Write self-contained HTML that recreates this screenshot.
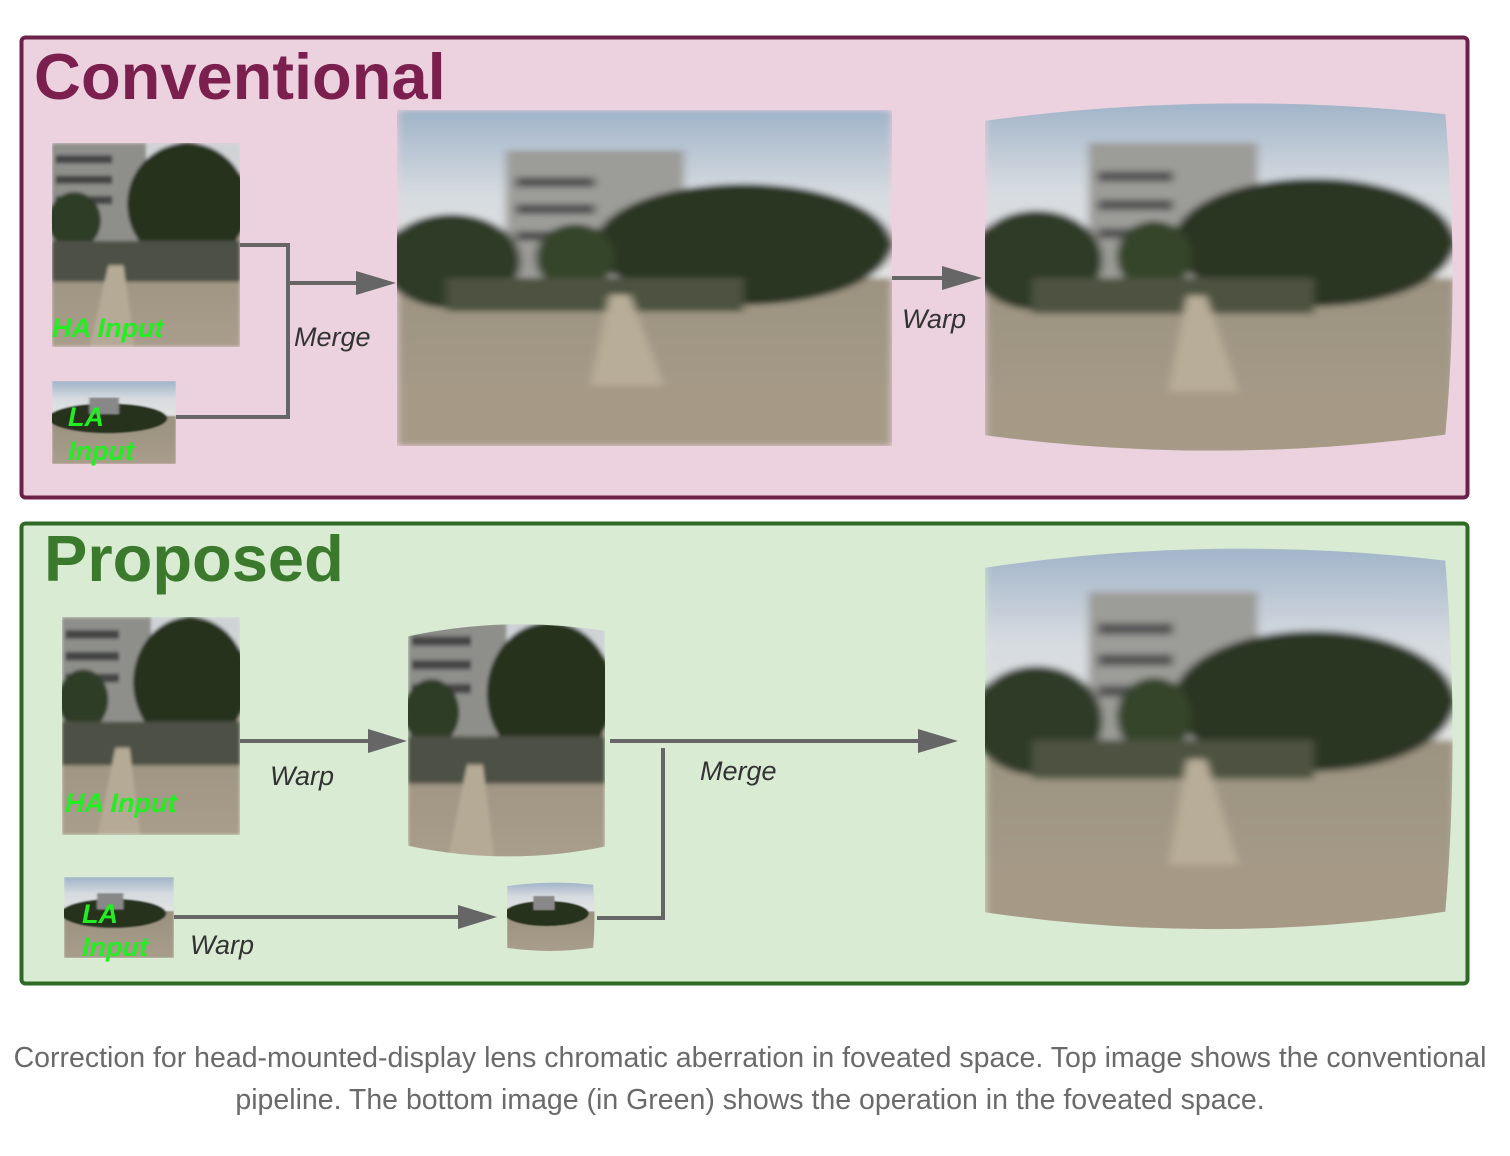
<!DOCTYPE html>
<html><head><meta charset="utf-8">
<style>
html,body{margin:0;padding:0;background:#fff;width:1510px;height:1156px;overflow:hidden}
svg{display:block}
.lbl{font-family:"Liberation Sans",sans-serif;font-style:italic;font-size:27px;fill:#333}
.grn{font-family:"Liberation Sans",sans-serif;font-style:italic;font-weight:bold;font-size:27px;fill:#22ee22}
.cap{font-family:"Liberation Sans",sans-serif;font-size:28.5px;fill:#6a6a6a}
</style></head><body>
<svg width="1510" height="1156" viewBox="0 0 1510 1156" xmlns="http://www.w3.org/2000/svg">
<defs>
  <filter id="bl" x="-5%" y="-5%" width="110%" height="110%"><feGaussianBlur stdDeviation="0.9"/></filter>
  <linearGradient id="sky" x1="0" y1="0" x2="0" y2="1">
    <stop offset="0" stop-color="#9fb3c8"/><stop offset="0.5" stop-color="#d6dbe0"/><stop offset="1" stop-color="#e3e4e3"/>
  </linearGradient>
  <linearGradient id="gnd" x1="0" y1="0" x2="0" y2="1">
    <stop offset="0" stop-color="#8f8876"/><stop offset="1" stop-color="#a99d8b"/>
  </linearGradient>
  <symbol id="wide" viewBox="0 0 100 100" preserveAspectRatio="none">
    <g filter="url(#bl)">
    <rect width="100" height="100" fill="url(#gnd)"/>
    <rect width="100" height="50" fill="url(#sky)"/>
    <rect x="22" y="12" width="36" height="38" fill="#9c9c98"/>
    <rect x="24" y="20" width="16" height="3" fill="#555"/><rect x="24" y="28" width="16" height="3" fill="#555"/><rect x="24" y="36" width="16" height="3" fill="#555"/>
    <ellipse cx="11" cy="45" rx="14" ry="14" fill="#2e3a27"/>
    <ellipse cx="70" cy="40" rx="30" ry="18" fill="#2a3623"/>
    <ellipse cx="36" cy="44" rx="8" ry="10" fill="#34452c"/>
    <rect x="10" y="50" width="60" height="10" fill="#4d5240"/>
    <polygon points="43,55 47,55 54,82 39,82" fill="#b8ad98"/>
    <rect x="0" y="82" width="100" height="18" fill="#a69a87"/>
    </g>
  </symbol>
  <symbol id="ha" viewBox="0 0 100 100" preserveAspectRatio="none">
    <g filter="url(#bl)">
    <rect width="100" height="100" fill="url(#gnd)"/>
    <rect width="100" height="15" fill="#cfd3d6"/>
    <rect x="0" y="0" width="50" height="48" fill="#8e8f8a"/>
    <rect x="2" y="6" width="30" height="4" fill="#444"/><rect x="2" y="16" width="30" height="4" fill="#444"/><rect x="2" y="26" width="30" height="4" fill="#444"/>
    <ellipse cx="72" cy="30" rx="32" ry="30" fill="#25311f"/>
    <ellipse cx="12" cy="38" rx="14" ry="14" fill="#2f3d28"/>
    <rect x="0" y="48" width="100" height="20" fill="#4e5144"/>
    <polygon points="30,60 38,60 44,100 20,100" fill="#b5aa96"/>
    </g>
  </symbol>
  <symbol id="la" viewBox="0 0 100 100" preserveAspectRatio="none">
    <g filter="url(#bl)">
    <rect width="100" height="100" fill="url(#gnd)"/>
    <rect width="100" height="42" fill="url(#sky)"/>
    <ellipse cx="45" cy="45" rx="48" ry="18" fill="#27321f"/>
    <rect x="30" y="20" width="24" height="20" fill="#888"/>
    </g>
  </symbol>
  <clipPath id="barrel" clipPathUnits="objectBoundingBox">
    <path d="M0.02,0.06 Q0.5,-0.03 0.98,0.04 Q1.01,0.5 0.98,0.94 Q0.5,1.03 0.02,0.94 Q-0.01,0.5 0.02,0.06 Z"/>
  </clipPath>
</defs>

<!-- Top panel -->
<rect x="21.5" y="37.5" width="1446" height="460" rx="4" fill="#ecd2de" stroke="#6b2148" stroke-width="4"/>
<text x="34" y="99" font-family="Liberation Sans,sans-serif" font-weight="bold" font-size="65" fill="#7a1f4e">Conventional</text>

<use href="#ha" x="52" y="143" width="188" height="204"/>
<text class="grn" x="52" y="337">HA Input</text>
<use href="#la" x="52" y="381" width="124" height="83"/>
<text class="grn" x="68" y="426">LA</text>
<text class="grn" x="68" y="460">Input</text>

<g stroke="#666" stroke-width="4" fill="none">
  <polyline points="240,245 288,245 288,417 176,417"/>
  <line x1="288" y1="283" x2="360" y2="283"/>
  <line x1="892" y1="278" x2="945" y2="278"/>
</g>
<polygon points="356,271 396,283 356,295" fill="#666"/>
<polygon points="942,266 982,278 942,290" fill="#666"/>
<text class="lbl" x="294" y="346">Merge</text>
<text class="lbl" x="902" y="328">Warp</text>

<use href="#wide" x="397" y="110" width="495" height="336"/>
<g clip-path="url(#barrel)"><use href="#wide" x="985" y="100" width="470" height="356"/></g>

<!-- Bottom panel -->
<rect x="21.5" y="523.5" width="1446" height="460" rx="4" fill="#d9ebd3" stroke="#2e6a24" stroke-width="4"/>
<text x="44" y="581" font-family="Liberation Sans,sans-serif" font-weight="bold" font-size="65" fill="#3b7a2c">Proposed</text>

<use href="#ha" x="62" y="617" width="178" height="218"/>
<text class="grn" x="65" y="812">HA Input</text>
<use href="#la" x="64" y="877" width="110" height="81"/>
<text class="grn" x="82" y="923">LA</text>
<text class="grn" x="82" y="956">Input</text>

<g clip-path="url(#barrel)"><use href="#ha" x="408" y="622" width="197" height="238"/></g>
<g clip-path="url(#barrel)"><use href="#la" x="507" y="882" width="88" height="70"/></g>
<g clip-path="url(#barrel)"><use href="#wide" x="985" y="545" width="470" height="390"/></g>

<g stroke="#666" stroke-width="4" fill="none">
  <line x1="240" y1="741" x2="372" y2="741"/>
  <line x1="610" y1="741" x2="922" y2="741"/>
  <polyline points="663,748 663,918 597,918"/>
  <line x1="174" y1="917" x2="462" y2="917"/>
</g>
<polygon points="368,729 407,741 368,753" fill="#666"/>
<polygon points="918,729 958,741 918,753" fill="#666"/>
<polygon points="458,905 497,917 458,929" fill="#666"/>
<text class="lbl" x="270" y="785">Warp</text>
<text class="lbl" x="700" y="780">Merge</text>
<text class="lbl" x="190" y="954">Warp</text>

<!-- Caption -->
<text class="cap" x="750" y="1067" text-anchor="middle">Correction for head-mounted-display lens chromatic aberration in foveated space. Top image shows the conventional</text>
<text class="cap" x="750" y="1109" text-anchor="middle">pipeline. The bottom image (in Green) shows the operation in the foveated space.</text>
</svg>
</body></html>
